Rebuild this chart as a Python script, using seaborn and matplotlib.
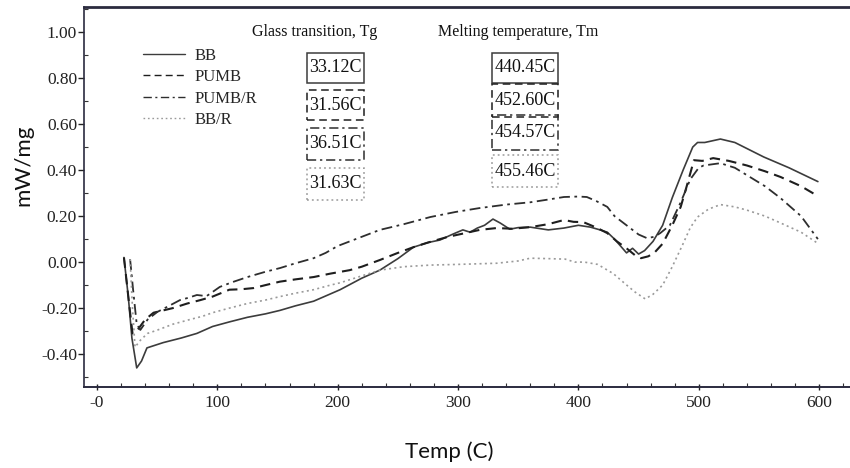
import matplotlib
matplotlib.use("Agg")
import matplotlib.pyplot as plt
import seaborn as sns
import pandas as pd
from matplotlib.patches import Rectangle
from matplotlib.ticker import MultipleLocator, FixedLocator, FuncFormatter

# ---------------- data ----------------
series_names = ["BB", "PUMB", "PUMB/R", "BB/R"]

bb_points = [(22.4, 0.02), (26, -0.15), (29, -0.33), (33, -0.46), (37, -0.43), (41.5, -0.373),
             (55, -0.35), (70, -0.33), (83, -0.31), (96, -0.28), (110, -0.26), (125, -0.24),
             (140, -0.225), (152, -0.21), (165, -0.19), (180, -0.17), (202, -0.12), (220, -0.07),
             (235, -0.035), (250, 0.015), (263, 0.065), (275, 0.085), (285, 0.096), (295, 0.12),
             (304, 0.14), (310, 0.13), (316, 0.148), (322, 0.16), (329, 0.187), (335, 0.17),
             (343, 0.143), (350, 0.15), (360, 0.152), (375, 0.14), (388, 0.148), (400, 0.16),
             (410, 0.152), (418, 0.14), (424, 0.13), (430, 0.1), (435, 0.07), (440, 0.04),
             (445, 0.06), (450, 0.035), (455, 0.05), (462, 0.09), (470, 0.16), (478, 0.28),
             (487, 0.4), (495, 0.5), (499, 0.52), (505, 0.52), (518, 0.535), (530, 0.52),
             (554, 0.457), (575, 0.41), (599, 0.35)]

pumb_points = [(22.4, 0.02), (26, -0.15), (29.5, -0.31), (33, -0.3), (40, -0.25), (47, -0.22),
               (55, -0.21), (63, -0.20), (75, -0.18), (86, -0.165), (96, -0.15), (110, -0.12),
               (120, -0.118), (130, -0.113), (140, -0.1), (152, -0.085), (165, -0.075),
               (180, -0.065), (194, -0.05), (210, -0.035), (220, -0.02), (235, 0.009),
               (250, 0.04), (263, 0.065), (275, 0.085), (291, 0.109), (305, 0.125), (318, 0.14),
               (332, 0.148), (345, 0.145), (360, 0.152), (375, 0.165), (388, 0.183), (396, 0.175),
               (404, 0.174), (415, 0.15), (424, 0.126), (432, 0.09), (440, 0.06), (447, 0.03),
               (452, 0.017), (458, 0.025), (463, 0.04), (470, 0.08), (478, 0.16), (485, 0.24),
               (490, 0.33), (496, 0.443), (503, 0.44), (512, 0.452), (525, 0.44), (540, 0.42),
               (555, 0.395), (568, 0.37), (585, 0.33), (598, 0.29)]

pumbr_points = [(27.5, 0.013), (30, -0.12), (33, -0.27), (36, -0.295), (42, -0.25), (50, -0.217),
                (60, -0.19), (69, -0.165), (76, -0.155), (83, -0.143), (91, -0.148), (96, -0.13),
                (102, -0.108), (112, -0.088), (125, -0.065), (140, -0.042), (152, -0.026),
                (165, -0.005), (180, 0.017), (190, 0.04), (200, 0.07), (215, 0.1), (235, 0.14),
                (255, 0.165), (277, 0.196), (298, 0.218), (318, 0.235), (340, 0.25), (360, 0.26),
                (375, 0.272), (388, 0.283), (400, 0.285), (407, 0.283), (415, 0.265), (424, 0.24),
                (430, 0.2), (440, 0.16), (450, 0.12), (457, 0.104), (463, 0.11), (468, 0.126),
                (476, 0.16), (485, 0.26), (493, 0.36), (500, 0.41), (504, 0.42), (518, 0.43),
                (530, 0.41), (540, 0.378), (555, 0.33), (568, 0.278), (585, 0.2), (599, 0.10)]

bbr_points = [(27.5, 0.013), (29.5, -0.2), (31.6, -0.37), (36, -0.34), (42, -0.31), (50, -0.296),
              (63, -0.27), (77, -0.25), (88, -0.235), (96, -0.22), (110, -0.2), (125, -0.18),
              (140, -0.165), (152, -0.15), (165, -0.135), (180, -0.12), (194, -0.1), (202, -0.09),
              (220, -0.06), (235, -0.035), (255, -0.02), (277, -0.013), (300, -0.01),
              (332, -0.005), (350, 0.005), (360, 0.017), (375, 0.015), (389, 0.013), (397, 0.0),
              (405, 0.0), (416, -0.01), (429, -0.05), (439, -0.095), (447, -0.13), (455.5, -0.16),
              (462, -0.14), (470, -0.1), (478, -0.02), (487, 0.08), (493, 0.15), (499, 0.196),
              (508, 0.23), (518, 0.25), (530, 0.24), (540, 0.226), (555, 0.2), (568, 0.17),
              (585, 0.13), (598.5, 0.083)]

tg_values = ["33.12C", "31.56C", "36.51C", "31.63C"]
tm_values = ["440.45C", "452.60C", "454.57C", "455.46C"]

x_ticks = [0, 100, 200, 300, 400, 500, 600]
x_tick_labels = ["-0", "100", "200", "300", "400", "500", "600"]
y_ticks = [-0.4, -0.2, 0.0, 0.2, 0.4, 0.6, 0.8, 1.0]

# ---------------- build table ----------------
rows = []
for name, pts in zip(series_names, [bb_points, pumb_points, pumbr_points, bbr_points]):
    for t, v in pts:
        rows.append({"series": name, "T": t, "y": v})
df = pd.DataFrame(rows)

# ---------------- styling ----------------
sns.set_theme(style="white")
plt.rcParams["font.family"] = ["Liberation Serif", "DejaVu Serif"]

W, H = 850, 468
colors = {"BB": "#3c3c3c", "PUMB": "#1e1e1e", "PUMB/R": "#2e2e2e", "BB/R": "#9a9a9a"}
lstyles = {"BB": "-", "PUMB": (0, (5, 3)), "PUMB/R": (0, (6, 2.5, 1.5, 2.5)), "BB/R": (0, (1.2, 2))}
lwidths = {"BB": 1.2, "PUMB": 1.5, "PUMB/R": 1.3, "BB/R": 1.2}
box_ls = {"BB": "-", "PUMB": (0, (5, 3)), "PUMB/R": (0, (6, 2.5, 1.5, 2.5)), "BB/R": (0, (1.2, 2))}

fig = plt.figure(figsize=(8.5, 4.68), dpi=100)
ax = fig.add_axes([84 / W, 1 - 387 / H, 770 / W, 380 / H])

for name in series_names:
    sub = df[df["series"] == name]
    sns.lineplot(data=sub, x="T", y="y", ax=ax, sort=False, estimator=None,
                 color=colors[name], linewidth=lwidths[name], label=name)
    ax.lines[-1].set_linestyle(lstyles[name])

ax.set_xlim(-10.8, 629)
ax.set_ylim(-0.543, 1.109)

ax.xaxis.set_major_locator(FixedLocator(x_ticks))
ax.set_xticklabels(x_tick_labels)
ax.xaxis.set_minor_locator(MultipleLocator(20))
ax.yaxis.set_major_locator(FixedLocator(y_ticks))
ax.yaxis.set_major_formatter(FuncFormatter(lambda v, p: f"{v:.2f}" if abs(v) > 1e-9 else "0.00"))
ax.yaxis.set_minor_locator(MultipleLocator(0.1))

ax.tick_params(axis="both", which="major", labelsize=12.5, colors="#222222", length=4, width=1,
               direction="out", left=True, bottom=True, pad=1)
ax.tick_params(axis="x", which="major", direction="inout", length=5, pad=3)
ax.tick_params(axis="both", which="minor", length=3, width=0.8, direction="in", left=True, bottom=True,
               colors="#333333")

for s in ["left", "bottom", "top"]:
    ax.spines[s].set_visible(True)
    ax.spines[s].set_color("#2b2b3f")
ax.spines["top"].set_linewidth(2.0)
ax.spines["left"].set_linewidth(1.2)
ax.spines["bottom"].set_linewidth(1.4)
ax.spines["right"].set_visible(False)

ax.set_xlabel("")
ax.set_ylabel("")
fig.text(449 / W, 1 - 452 / H, "Temp (C)", ha="center", va="center",
         family=["Lato", "DejaVu Sans"], fontsize=16, color="#111111")
fig.text(23 / W, 1 - 165 / H, "mW/mg", ha="center", va="center", rotation=90,
         family=["Lato", "DejaVu Sans"], fontsize=16, color="#111111")

# legend
leg = ax.legend(loc="upper left", bbox_to_anchor=((143 - 84) / 770, (387 - 48) / 380), frameon=False,
                fontsize=12, handlelength=2.5, handletextpad=0.6, labelspacing=0.32,
                borderaxespad=0, borderpad=0)
for h, name in zip(leg.get_lines(), series_names):
    h.set_linestyle(lstyles[name])
    h.set_color(colors[name])
    h.set_linewidth(1.0)

# headings
fig.text(315 / W, 1 - 32 / H, "Glass transition, Tg", ha="center", va="center", fontsize=11.5,
         color="#111111")
fig.text(518 / W, 1 - 32 / H, "Melting temperature, Tm", ha="center", va="center", fontsize=11.5,
         color="#111111")

# value boxes (pixel extents: x0, x1, y0, y1)
tg_boxes = [(307, 364, 53, 83), (307, 364, 90, 120), (307, 364, 128, 160), (307, 364, 168, 200)]
tm_boxes = [(492, 558, 53, 83), (492, 558, 84, 117), (492, 558, 115, 150), (492, 558, 155, 187)]
for i, name in enumerate(series_names):
    for (x0, x1, y0, y1), txt in ((tg_boxes[i], tg_values[i]), (tm_boxes[i], tm_values[i])):
        fig.add_artist(Rectangle((x0 / W, 1 - y1 / H), (x1 - x0) / W, (y1 - y0) / H,
                                 transform=fig.transFigure, fill=False, ec=colors[name],
                                 lw=1.1, ls=box_ls[name]))
        fig.text((x0 + x1) / 2 / W, 1 - (y0 + y1) / 2 / H, txt, ha="center", va="center",
                 fontsize=13, color="#111111")

fig.savefig("out.png", dpi=100)
